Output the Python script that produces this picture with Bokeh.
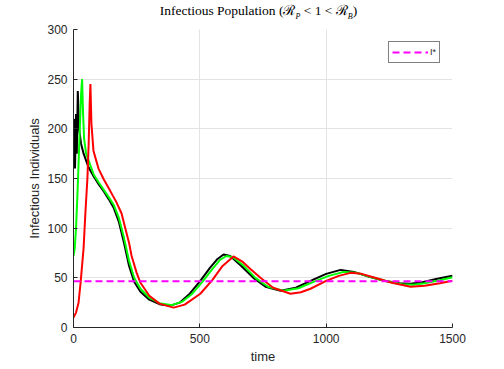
from bokeh.plotting import figure
from bokeh.models import Legend, LegendItem, Range1d, FixedTicker, Div
from bokeh.layouts import column
from bokeh.embed import file_html
from bokeh.resources import INLINE

# ---------------- data ----------------
t_black = [0, 3, 6, 10, 13, 17, 22, 30, 40, 60, 80, 100, 120, 140, 160, 180, 200, 220, 240, 265,
           300, 340, 384, 420, 460, 502, 540, 570, 594, 620, 660, 712, 760, 820, 880, 938, 1000,
           1057, 1110, 1170, 1230, 1290, 1334, 1380, 1440, 1500]
i_black = [195, 210, 160, 215, 175, 238, 200, 185, 175, 161, 152, 144, 137, 129, 120, 106, 85, 62, 46, 36,
           28, 23.5, 22, 25, 34, 47, 60, 69, 73.5, 72, 63, 50, 41, 37, 40, 47, 54,
           58, 56, 51, 47, 44.5, 44, 45.5, 49, 52]

t_green = [0, 5, 10, 15, 20, 25, 30, 34, 38, 42, 50, 80, 100, 140, 160, 180, 200, 220, 240, 265,
           300, 340, 390, 430, 470, 510, 550, 580, 605, 630, 670, 720, 770, 830, 890, 950, 1010,
           1070, 1120, 1180, 1240, 1300, 1345, 1390, 1450, 1500]
i_green = [72, 80, 100, 130, 165, 200, 235, 250, 215, 190, 175, 154, 146, 131, 123, 110, 90, 67, 50, 39,
           30, 24.5, 22.5, 26, 34, 46, 59, 68, 72, 71, 63, 50, 41, 37, 39.5, 46, 52,
           56, 55, 50.5, 46.5, 43.5, 43, 44.5, 47.5, 50.5]

t_red = [0, 10, 20, 28, 40, 47, 55, 60, 64, 67, 71, 79, 90, 99, 120, 138, 155, 170, 190, 205, 220,
         230, 250, 265, 300, 340, 396, 440, 502, 550, 590, 633, 670, 700, 740, 790, 859, 900, 938,
         1000, 1050, 1096, 1140, 1200, 1260, 1334, 1390, 1450, 1500]
i_red = [10, 15, 25, 45, 80, 115, 150, 185, 225, 245, 205, 178, 168, 160, 149, 141, 133, 126, 115, 100, 85,
         72, 55, 45, 32, 24, 20, 23, 34, 48, 62, 71.5, 66, 59, 50, 40, 34, 35.5, 39,
         47, 52, 55, 54, 49.5, 45, 41, 42, 44.5, 47]

t_eq = [0, 1500]
i_eq = [46.5, 46.5]

x_ticks = [0, 500, 1000, 1500]
y_ticks = [0, 50, 100, 150, 200, 250, 300]

TITLE_HTML = ("Infectious Population (<span style='font-family:\"DejaVu Serif\";font-size:14px'>\u211b</span>"
              "<sub style='font-size:8px;font-style:italic'>P</sub>&nbsp;&lt;&nbsp;1&nbsp;&lt;&nbsp;"
              "<span style='font-family:\"DejaVu Serif\";font-size:14px'>\u211b</span>"
              "<sub style='font-size:8px;font-style:italic'>B</sub>)")

# ---------------- figure ----------------
TXT = "#262626"
W = 500
p = figure(width=W, height=348, output_backend="svg", toolbar_location=None,
           x_range=Range1d(0, 1500), y_range=Range1d(0, 300),
           min_border_left=73, min_border_right=W - 452, min_border_top=9, min_border_bottom=41)
p.outline_line_color = None
p.background_fill_color = "white"
p.border_fill_color = "white"

for ax in (p.xaxis[0], p.yaxis[0]):
    ax.axis_line_color = TXT
    ax.axis_line_width = 1
    ax.major_tick_line_color = TXT
    ax.major_tick_in = 4
    ax.major_tick_out = 0
    ax.minor_tick_line_color = None
    ax.major_label_text_font = "Liberation Sans"
    ax.major_label_text_font_size = "12px"
    ax.major_label_text_color = TXT
    ax.axis_label_text_font = "Liberation Sans"
    ax.axis_label_text_font_size = "13px"
    ax.axis_label_text_font_style = "normal"
    ax.axis_label_text_color = TXT

p.xaxis.ticker = FixedTicker(ticks=x_ticks)
p.yaxis.ticker = FixedTicker(ticks=y_ticks)
p.xaxis.axis_label = "time"
p.yaxis.axis_label = "Infectious Individuals"
p.xaxis.major_label_standoff = 6
p.xaxis.axis_label_standoff = 3
p.yaxis.major_label_standoff = 6
p.yaxis.axis_label_standoff = 2

p.grid.grid_line_color = "#e3e3e3"
p.grid.grid_line_width = 1

p.line(t_black, i_black, line_color="black", line_width=2)
p.line(t_green, i_green, line_color="#00ff00", line_width=2)
p.line(t_red, i_red, line_color="#ff0000", line_width=2)
r_eq = p.line(t_eq, i_eq, line_color="#ff00ff", line_width=2, line_dash="7 4")

legend = Legend(items=[LegendItem(label="I*", renderers=[r_eq])],
                location="top_right", margin=12, padding=3, spacing=0,
                glyph_width=36, glyph_height=14, label_standoff=2, label_width=6,
                label_text_font="Liberation Sans", label_text_font_size="9px",
                label_text_color=TXT, label_height=14,
                border_line_color="black", border_line_width=1,
                background_fill_color="white", background_fill_alpha=1)
p.add_layout(legend)

title = Div(text=TITLE_HTML, width=W, height=20, margin=0,
            styles={"font-family": "'Liberation Serif', serif", "font-size": "13.5px",
                    "color": "black", "text-align": "center", "padding-left": "17px",
                    "padding-top": "3px", "box-sizing": "border-box", "line-height": "15px"})

layout = column(title, p, spacing=0)
open("out.html", "w").write(file_html(layout, INLINE))
